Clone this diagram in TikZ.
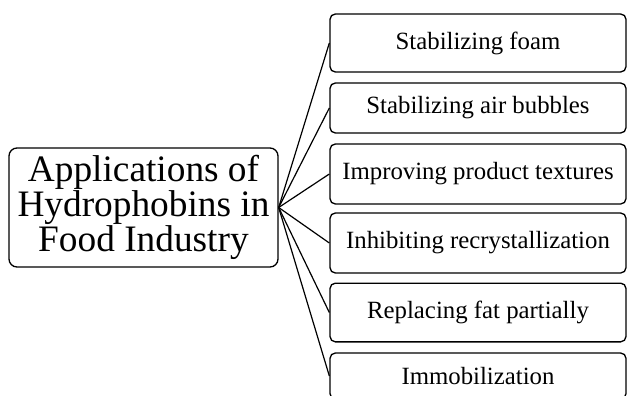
\documentclass[tikz,border=0pt]{standalone}
\usepackage{fontspec}
\setmainfont{Liberation Serif}
\tikzset{
  appbox/.style={draw, line width=1pt, rounded corners=4pt, minimum width=222pt, align=center, font=\fontsize{18.6}{20}\selectfont},
  rootbox/.style={draw, line width=1pt, rounded corners=6pt, minimum width=201.75pt, minimum height=89.25pt, align=center, font=\fontsize{28}{26.5}\selectfont},
  branch/.style={line width=0.9pt}
}
\begin{document}
\begin{tikzpicture}[x=0.75pt,y=-0.75pt]
            \useasboundingbox (0,0) rectangle (628,396);
            \clip (0,0) rectangle (628,396);

            % root
            \node[rootbox] (root) at (143.5,207.5) {Applications of\\Hydrophobins in\\Food Industry};

            % applications
            \node[appbox, minimum height=43.5pt] (foam) at (478,43) {Stabilizing foam};
            \node[appbox, minimum height=37.5pt] (bubbles) at (478,108) {Stabilizing air bubbles};
            \node[appbox, minimum height=45pt] (texture) at (478,174) {Improving product textures};
            \node[appbox, minimum height=45pt] (recryst) at (478,243) {Inhibiting recrystallization};
            \node[appbox, minimum height=44pt] (fat) at (478,312.5) {Replacing fat partially};
            \node[appbox, minimum height=34.5pt] (immob) at (478,376) {Immobilization};

            % lines
            \foreach \app in {foam,bubbles,texture,recryst,fat,immob}
              \draw[branch] (root.east) -- (\app.west);
\end{tikzpicture}
\end{document}
